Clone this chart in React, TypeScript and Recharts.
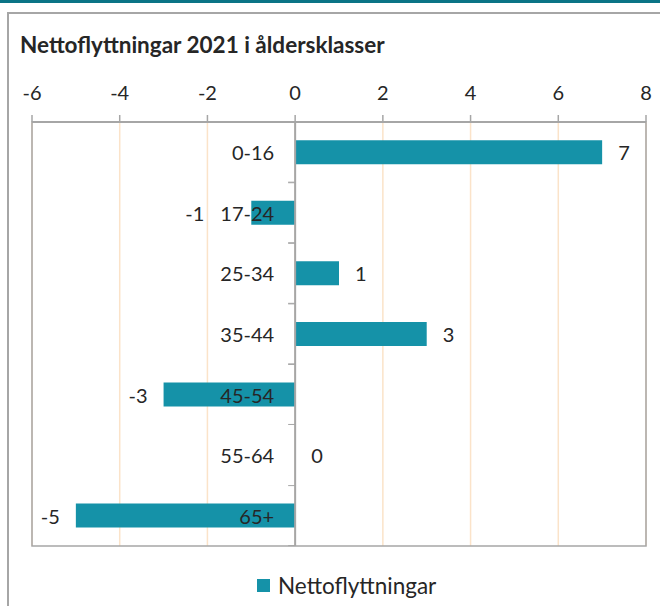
import {
  Bar,
  BarChart,
  CartesianGrid,
  LabelList,
  ReferenceArea,
  ReferenceLine,
  XAxis,
  YAxis
} from "recharts"

const TITLE = "Nettoflyttningar 2021 i åldersklasser"
const SERIES_NAME = "Nettoflyttningar"
const AGE_GROUPS = ["0-16", "17-24", "25-34", "35-44", "45-54", "55-64", "65+"]
const NET_MOVES = [7, -1, 1, 3, -3, 0, -5]
const X_TICKS = [-6, -4, -2, 0, 2, 4, 6, 8]

const data = AGE_GROUPS.map((age, i) => ({ age, value: NET_MOVES[i] }))

const FONT = "Lato, 'Open Sans', sans-serif"
const TEAL = "#1592a8"
const TEXT = "#262626"
const AXIS_GRAY = "#a6a6a6"
const GRID = "#fbe3c9"
const CATEGORY_GAP = 0.3

// measure label widths so a negative value label can step clear of the age text
const ctx =
  typeof document !== "undefined"
    ? document.createElement("canvas").getContext("2d")
    : null
function textWidth(s: string) {
  if (!ctx) return s.length * 10
  ctx.font = `20px ${FONT}`
  return ctx.measureText(s).width
}

/** Small axis ticks on the zero line, between categories (Excel style). */
function BandTicks(props: any) {
  const { x, y, width, height, value } = props
  const v = NET_MOVES[AGE_GROUPS.indexOf(value)]
  const zero = v >= 0 ? Math.min(x, x + width) : Math.max(x, x + width)
  const band = height / (1 - 2 * CATEGORY_GAP)
  const cy = y + height / 2
  return (
    <g>
      <line x1={zero - 7} x2={zero} y1={cy - band / 2} y2={cy - band / 2} stroke={AXIS_GRAY} />
      <line x1={zero - 7} x2={zero} y1={cy + band / 2} y2={cy + band / 2} stroke={AXIS_GRAY} />
    </g>
  )
}

/** Age text just left of the zero line, value outside the bar end. */
function RowLabel(props: any) {
  const { viewBox, age, v } = props
  const zero = v >= 0 ? viewBox.x : viewBox.x + viewBox.width
  const end = v >= 0 ? viewBox.x + viewBox.width : viewBox.x
  const cy = viewBox.y + viewBox.height / 2
  const ageRight = zero - 21
  const ageLeft = ageRight - textWidth(age)
  const valueProps =
    v >= 0
      ? { x: end + 16, textAnchor: "start" as const }
      : { x: Math.min(end, ageLeft) - 16, textAnchor: "end" as const }
  return (
    <g>
      <text
        x={ageRight}
        y={cy}
        textAnchor="end"
        dominantBaseline="central"
        fontSize={20}
        fontFamily={FONT}
        fill={TEXT}
      >
        {age}
      </text>
      <text
        {...valueProps}
        y={cy}
        dominantBaseline="central"
        fontSize={20}
        fontFamily={FONT}
        fill={TEXT}
      >
        {v}
      </text>
    </g>
  )
}

export default function App() {
  return (
    <div
      style={{
        position: "absolute",
        left: 0,
        top: 0,
        width: 660,
        height: 606,
        background: "#fff",
        overflow: "hidden",
        fontFamily: FONT
      }}
    >
      <div
        style={{
          position: "absolute",
          left: 0,
          top: 0,
          width: 660,
          height: 3,
          background: "#0a7486"
        }}
      />
      <div
        style={{
          position: "absolute",
          left: 7,
          top: 12,
          width: 700,
          height: 700,
          borderLeft: `2px solid ${AXIS_GRAY}`,
          borderTop: `2px solid ${AXIS_GRAY}`
        }}
      />
      <div
        style={{
          position: "absolute",
          left: 20,
          top: 31,
          fontSize: 22.5,
          fontWeight: 700,
          color: TEXT,
          whiteSpace: "nowrap"
        }}
      >
        {TITLE}
      </div>
      <div style={{ position: "absolute", left: 0, top: 0 }}>
        <BarChart
          width={660}
          height={606}
          layout="vertical"
          data={data}
          barCategoryGap={`${CATEGORY_GAP * 100}%`}
          margin={{ top: 92, right: 14, bottom: 60, left: 32 }}
        >
          <CartesianGrid horizontal={false} stroke={GRID} strokeWidth={1.5} />
          <XAxis
            type="number"
            orientation="top"
            domain={[-6, 8]}
            ticks={X_TICKS}
            height={30}
            tickSize={7}
            tickMargin={15}
            axisLine={{ stroke: AXIS_GRAY, strokeWidth: 2 }}
            tickLine={{ stroke: AXIS_GRAY, strokeWidth: 1.5 }}
            tick={{ fontSize: 20, fill: TEXT, fontFamily: FONT }}
            allowDataOverflow
          />
          <YAxis type="category" dataKey="age" hide />
          <ReferenceArea
            x1={-6}
            x2={8}
            fill="none"
            stroke={AXIS_GRAY}
            strokeWidth={1.5}
          />
          <Bar dataKey="value" fill={TEAL} isAnimationActive={false}>
            <LabelList dataKey="age" content={<BandTicks />} />
          </Bar>
          <ReferenceLine x={0} stroke={AXIS_GRAY} strokeWidth={2} />
          {data.map((d) => (
            <ReferenceLine
              key={d.age}
              segment={[
                { x: 0, y: d.age },
                { x: d.value, y: d.age }
              ]}
              stroke="none"
              label={<RowLabel age={d.age} v={d.value} />}
            />
          ))}
        </BarChart>
      </div>
      <div
        style={{
          position: "absolute",
          left: 257,
          top: 572,
          display: "flex",
          alignItems: "center",
          fontSize: 22.5,
          color: TEXT,
          whiteSpace: "nowrap"
        }}
      >
        <span
          style={{
            display: "inline-block",
            width: 13,
            height: 13,
            background: TEAL,
            marginRight: 8
          }}
        />
        {SERIES_NAME}
      </div>
    </div>
  )
}
